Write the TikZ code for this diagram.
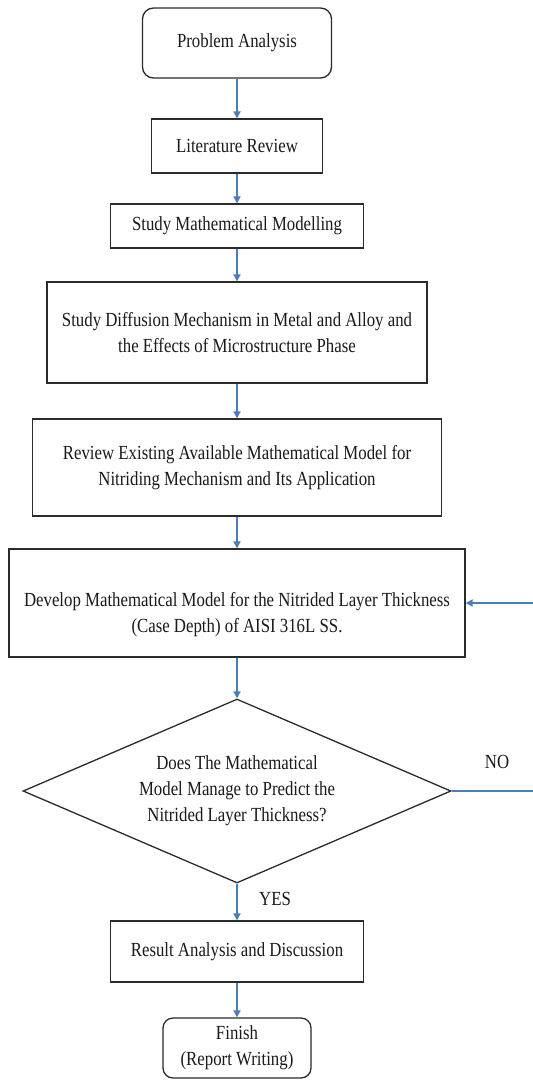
\documentclass[tikz,border=0pt]{standalone}
\usepackage{fontspec}
\setmainfont{Liberation Serif}[FakeStretch=0.84]
\usetikzlibrary{shapes.geometric,arrows.meta}
\definecolor{arrowblue}{HTML}{4A7EBB}
\definecolor{edgegray}{HTML}{2B2B2B}
\definecolor{txtgray}{HTML}{1A1A1A}
\begin{document}
\begin{tikzpicture}[x=1pt,y=-1pt,
  txtfont/.style={font=\fontsize{20}{26}\selectfont, text=txtgray},
  box/.style={draw=edgegray, line width=1.3pt, rectangle, inner sep=0pt, align=center, txtfont},
  rbox/.style={box, rounded corners=11pt},
  flow/.style={draw=arrowblue, line width=2pt, -{Triangle[width=7pt,length=7pt]}},
  flowline/.style={draw=arrowblue, line width=2pt},
  lbl/.style={txtfont, inner sep=0pt, align=center}]
\useasboundingbox (0,0) rectangle (533,1080);
\fill[white] (0,0) rectangle (533,1080);

\node[rbox, minimum width=189pt, minimum height=70pt] (pa) at (237,43) {Problem Analysis};
\node[box, minimum width=171pt, minimum height=54pt] (lr) at (237,146) {Literature Review};
\node[box, minimum width=253pt, minimum height=44pt] (smm) at (237,226) {Study Mathematical Modelling};
\node[box, minimum width=380pt, minimum height=101pt] (sdm) at (237,332.5) {Study Diffusion Mechanism in Metal and Alloy and\\the Effects of Microstructure Phase};
\node[box, minimum width=409pt, minimum height=97pt] (rev) at (237,467.5) {Review Existing Available Mathematical Model for\\Nitriding Mechanism and Its Application};
\node[box, minimum width=456pt, minimum height=108pt] (dev) at (237,603) {};
\node[lbl] (devt) at (237,615) {Develop Mathematical Model for the Nitrided Layer Thickness\\(Case Depth) of AISI 316L SS.};
\node[diamond, aspect=2.326, draw=edgegray, line width=1.3pt, minimum width=428pt, minimum height=184pt, inner sep=0pt, align=center, txtfont] (dia) at (237,791) {Does The Mathematical\\Model Manage to Predict the\\Nitrided Layer Thickness?};
\node[box, minimum width=253pt, minimum height=61pt] (res) at (237,951.5) {Result Analysis and Discussion};
\node[rbox, rounded corners=10pt, minimum width=148pt, minimum height=60pt] (fin) at (237,1048) {Finish\\(Report Writing)};

\node[lbl] (yes) at (275,899) {YES};
\node[lbl] (no) at (497,762) {NO};

\draw[flow] (pa.south) -- (lr.north);
\draw[flow] (lr.south) -- (smm.north);
\draw[flow] (smm.south) -- (sdm.north);
\draw[flow] (sdm.south) -- (rev.north);
\draw[flow] (rev.south) -- (dev.north);
\draw[flow] (dev.south) -- (dia.north);
\draw[flow] (dia.south) -- (res.north);
\draw[flow] (res.south) -- (fin.north);

\begin{scope}
\clip (0,0) rectangle (533,1080);
\coordinate (fb) at (560,791);
\draw[flow] (dia.east) -- (fb) |- (dev.east);
\end{scope}
\end{tikzpicture}
\end{document}
